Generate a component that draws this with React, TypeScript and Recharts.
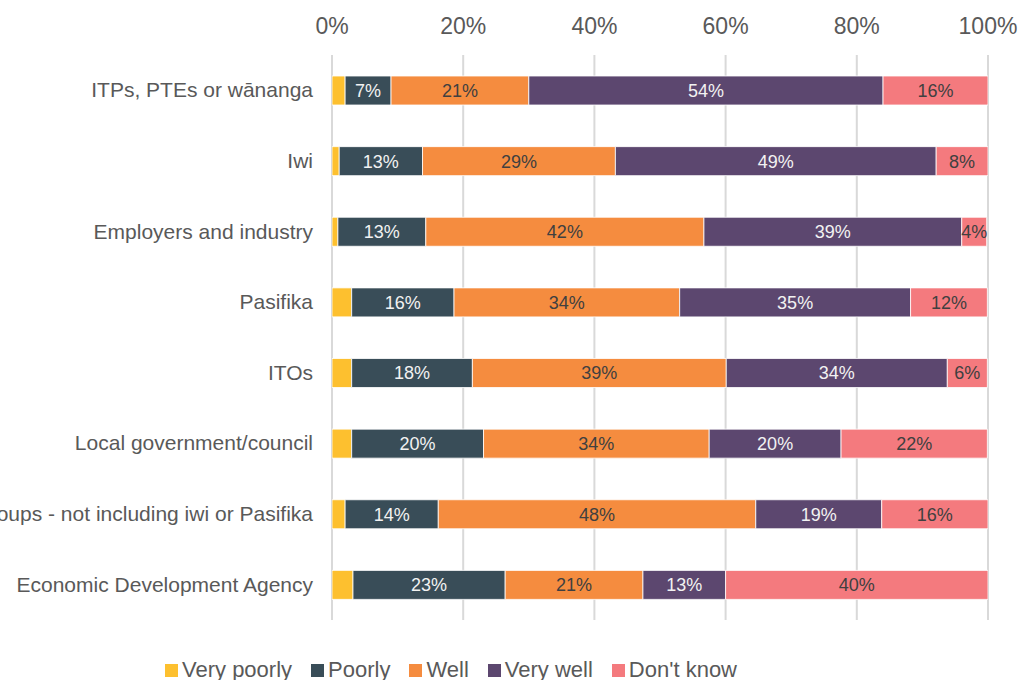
import { BarChart, Bar, XAxis, YAxis, CartesianGrid, Legend, LabelList } from "recharts";

const categories = [
  "ITPs, PTEs or wānanga",
  "Iwi",
  "Employers and industry",
  "Pasifika",
  "ITOs",
  "Local government/council",
  "Community groups - not including iwi or Pasifika",
  "Economic Development Agency",
];

const veryPoorly = [2, 1.1, 0.9, 3, 3, 3, 2, 3.2];
const poorly = [7, 12.7, 13.4, 15.6, 18.4, 20.1, 14.2, 23.2];
const well = [21, 29.4, 42.4, 34.4, 38.7, 34.4, 48.4, 21];
const veryWell = [54, 48.9, 39.3, 35.2, 33.7, 20.1, 19.2, 12.6];
const dontKnow = [16, 7.9, 3.8, 11.7, 6.1, 22.3, 16.2, 40.1];

const xTicks = [0, 20, 40, 60, 80, 100];

const series = [
  { key: "veryPoorly", name: "Very poorly", color: "#FDC02F", label: null },
  { key: "poorly", name: "Poorly", color: "#394D58", label: "#F2F2F2" },
  { key: "well", name: "Well", color: "#F58C3F", label: "#404040" },
  { key: "veryWell", name: "Very well", color: "#5C476F", label: "#F2F2F2" },
  { key: "dontKnow", name: "Don't know", color: "#F47A7E", label: "#404040" },
];

const data = categories.map((c, i) => ({
  category: c,
  veryPoorly: veryPoorly[i],
  poorly: poorly[i],
  well: well[i],
  veryWell: veryWell[i],
  dontKnow: dontKnow[i],
}));

const FONT = "'Liberation Sans', Arial, sans-serif";

// long labels are clipped at the left edge, like the original
function CategoryTick(props: any) {
  const { x, y, payload } = props;
  return (
    <text x={x} y={y} dy={7} textAnchor="end" fill="#595959" fontSize={21} fontFamily={FONT}>
      {payload.value}
    </text>
  );
}

function LegendContent() {
  return (
    <div style={{ display: "flex", alignItems: "center", fontFamily: FONT, fontSize: 22, color: "#595959" }}>
      {series.map((s) => (
        <div key={s.key} style={{ display: "flex", alignItems: "center", marginRight: 19 }}>
          <span style={{ width: 13, height: 13, background: s.color, display: "inline-block", marginRight: 4 }} />
          <span>{s.name}</span>
        </div>
      ))}
    </div>
  );
}

export default function App() {
  return (
    <div style={{ position: "absolute", left: 0, top: 0, width: 1022, height: 680, background: "#fff" }}>
      <BarChart
        width={1022}
        height={680}
        data={data}
        layout="vertical"
        margin={{ top: 0, right: 34, left: 0, bottom: 34 }}
        barSize={29}
      >
        <CartesianGrid horizontal={false} stroke="#D9D9D9" strokeWidth={2} />
        <XAxis
          type="number"
          orientation="top"
          domain={[0, 100]}
          ticks={xTicks}
          allowDataOverflow
          tickFormatter={(v: number) => `${v}%`}
          axisLine={false}
          tickLine={false}
          tickSize={0}
          tickMargin={21}
          height={55}
          tick={{ fill: "#595959", fontSize: 23, fontFamily: FONT }}
          interval={0}
        />
        <YAxis
          type="category"
          dataKey="category"
          width={332}
          axisLine={false}
          tickLine={false}
          tickSize={0}
          tickMargin={19}
          tick={<CategoryTick />}
          interval={0}
        />
        <Legend
          verticalAlign="bottom"
          content={<LegendContent />}
          wrapperStyle={{ position: "absolute", left: 165, top: 657, width: 700 }}
        />
        {series.map((s) => (
          <Bar
            key={s.key}
            dataKey={s.key}
            name={s.name}
            stackId="a"
            fill={s.color}
            stroke="#FFFFFF"
            strokeWidth={0.8}
            isAnimationActive={false}
          >
            {s.label && (
              <LabelList
                dataKey={s.key}
                position="center"
                formatter={(v: any) => `${Math.round(Number(v))}%`}
                fill={s.label}
                fontSize={18}
                fontFamily={FONT}
              />
            )}
          </Bar>
        ))}
      </BarChart>
    </div>
  );
}
